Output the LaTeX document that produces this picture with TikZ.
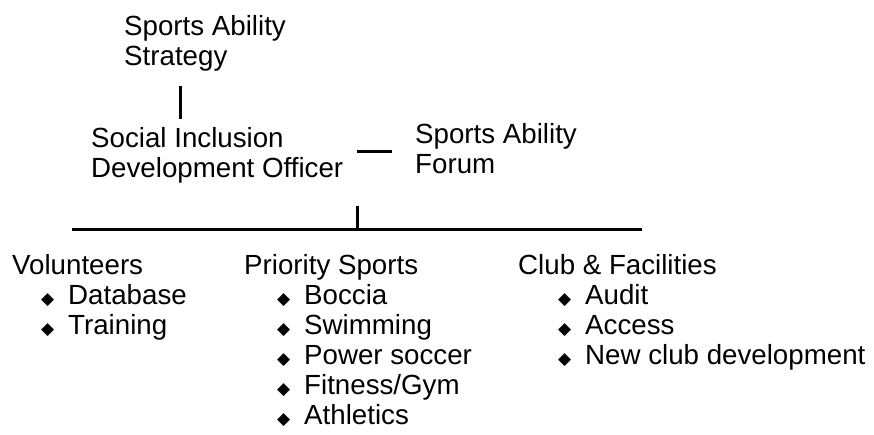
\documentclass[tikz,border=0pt]{standalone}
\usepackage{fontspec}
\setmainfont{Liberation Sans}
\newfontfamily\symfont{DejaVu Sans}
\usetikzlibrary{positioning}

\newcommand{\bul}{\makebox[27pt][l]{\raisebox{0pt}{\symfont\fontsize{17}{17}\selectfont ◆}}}

\begin{document}
\begin{tikzpicture}[
    x=1pt, y=-1pt,
    entry/.style={inner sep=0pt, anchor=base west, align=left, font=\fontsize{27.7}{30}\selectfont},
    joint/.style={line width=3pt}
]
\useasboundingbox (0,0) rectangle (874,435);

% Top of the chart (placed by the baseline of the last line)
\node[entry] (strategy) at (124,66) {Sports Ability\\Strategy};
\node[entry] (officer) at (91,178) {Social Inclusion\\Development Officer};
\node[entry] (forum) at (415,174) {Sports Ability\\Forum};

% Three work areas
\node[entry] (volunteers) at (12,334) {Volunteers\\
    \hspace*{29pt}\bul Database\\
    \hspace*{29pt}\bul Training};
\node[entry] (sports) at (244,424) {Priority Sports\\
    \hspace*{33pt}\bul Boccia\\
    \hspace*{33pt}\bul Swimming\\
    \hspace*{33pt}\bul Power soccer\\
    \hspace*{33pt}\bul Fitness/Gym\\
    \hspace*{33pt}\bul Athletics};
\node[entry] (club) at (518,364) {Club \& Facilities\\
    \hspace*{40pt}\bul Audit\\
    \hspace*{40pt}\bul Access\\
    \hspace*{40pt}\bul New club development};

% Line ends
\coordinate (strategy-foot) at (180,86);
\coordinate (officer-head) at (180,119);
\coordinate (officer-side) at (357,152);
\coordinate (forum-side) at (392,152);
\coordinate (stem-top) at (357,206);
\coordinate (bar-mid) at (357,230);
\coordinate (bar-left) at (72,230);
\coordinate (bar-right) at (642,230);

% Lines
\draw[joint] (strategy-foot) -- (officer-head);
\draw[joint] (officer-side) -- (forum-side);
\draw[joint] (stem-top) -- (bar-mid);
\draw[joint] (bar-left) -- (bar-right);

\end{tikzpicture}
\end{document}
